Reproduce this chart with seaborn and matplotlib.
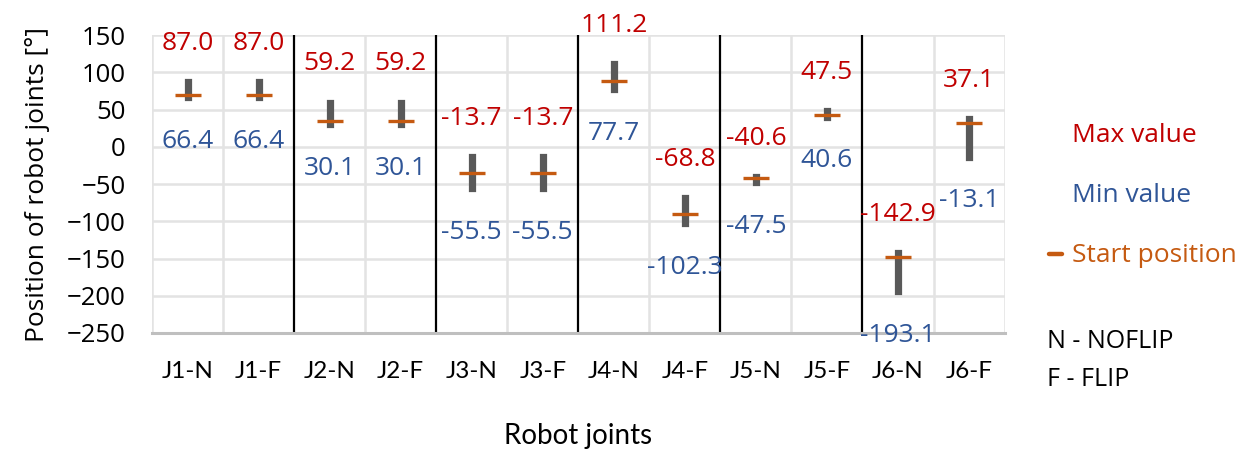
import matplotlib
matplotlib.use("Agg")
import matplotlib.pyplot as plt
from matplotlib.lines import Line2D
import pandas as pd
import seaborn as sns

# === DATA ===
joints = ["J1-N", "J1-F", "J2-N", "J2-F", "J3-N", "J3-F",
          "J4-N", "J4-F", "J5-N", "J5-F", "J6-N", "J6-F"]
max_vals = [87.0, 87.0, 59.2, 59.2, -13.7, -13.7, 111.2, -68.8, -40.6, 47.5, -142.9, 37.1]
min_vals = [66.4, 66.4, 30.1, 30.1, -55.5, -55.5, 77.7, -102.3, -47.5, 40.6, -193.1, -13.1]
start_pos = [69, 69, 35, 35, -35, -35, 88, -90, -42, 42, -148, 32]

# === STYLE ===
RED = "#C00000"
BLUE = "#2F5597"
ORANGE = "#C55A11"
BAR = "#595959"
GRID = "#E3E3E3"

sns.set_theme(style="white")
plt.rcParams["font.family"] = ["Open Sans", "DejaVu Sans"]
plt.rcParams["text.color"] = "black"
plt.rcParams["axes.labelcolor"] = "black"
plt.rcParams["xtick.color"] = "black"
plt.rcParams["ytick.color"] = "black"

df = pd.DataFrame({"joint": joints, "max": max_vals, "min": min_vals, "start": start_pos})

fig = plt.figure(figsize=(12.51, 4.70), dpi=100)
ax = fig.add_axes([0.1215, 0.2915, 0.6815, 0.634])

# high-low bars
ax.vlines(df["joint"], df["min"], df["max"], color=BAR, linewidth=5.2, zorder=3)
for ln in ax.collections:
    ln.set_capstyle("projecting")

# start position markers
sns.scatterplot(data=df, x="joint", y="start", marker="_", s=19**2, linewidth=2.4,
                color=ORANGE, ax=ax, zorder=4, legend=False)

# data labels
for i, row in df.iterrows():
    ax.annotate(f"{row['max']:.1f}", (i, row["max"]), xytext=(0, 28), textcoords="offset points",
                ha="center", va="center", color=RED, fontsize=19, annotation_clip=False)
    ax.annotate(f"{row['min']:.1f}", (i, row["min"]), xytext=(0, -32), textcoords="offset points",
                ha="center", va="center", color=BLUE, fontsize=19, annotation_clip=False)

# grid and separators
ax.set_ylim(-250, 150)
ax.set_xlim(-0.5, len(joints) - 0.5)
ax.set_yticks(range(-250, 151, 50))
for y in range(-200, 151, 50):
    ax.axhline(y, color=GRID, linewidth=1.8, zorder=0)
for k in range(len(joints)):
    x = k - 0.5
    if k % 2 == 0 and k > 0:
        ax.axvline(x, color="black", linewidth=1.6, zorder=1)
    else:
        ax.axvline(x, color=GRID, linewidth=1.8, zorder=0)
ax.axvline(len(joints) - 0.5, color=GRID, linewidth=1.8, zorder=0)

for s in ["top", "right", "left"]:
    ax.spines[s].set_visible(False)
ax.spines["bottom"].set_color("#BFBFBF")
ax.spines["bottom"].set_linewidth(2.2)

ax.tick_params(axis="y", length=0, pad=19, labelsize=18.5, labelcolor="black")
ax.tick_params(axis="x", length=0, pad=20, labelsize=17.5, labelcolor="black")
for t in ax.get_xticklabels():
    t.set_family(["Lato", "DejaVu Sans"])

ax.set_xlabel("Robot joints", fontsize=20, family=["Lato", "DejaVu Sans"], labelpad=30, color="black")
ax.set_ylabel("Position of robot joints [°]", fontsize=19, labelpad=12, color="black")

# legend-like annotations
fig.text(1072 / 1251, 1 - 135 / 470, "Max value", color=RED, fontsize=19, va="center")
fig.text(1072 / 1251, 1 - 196 / 470, "Min value", color=BLUE, fontsize=19, va="center")
fig.text(1072 / 1251, 1 - 255 / 470, "Start position", color=ORANGE, fontsize=19, va="center")
fig.add_artist(Line2D([1049 / 1251, 1062 / 1251], [1 - 254 / 470, 1 - 254 / 470],
                      color=ORANGE, linewidth=3.2, transform=fig.transFigure))
fig.text(1047 / 1251, 1 - 342 / 470, "N - NOFLIP", color="black", fontsize=18, va="center")
fig.text(1047 / 1251, 1 - 379 / 470, "F - FLIP", color="black", fontsize=18, va="center")

fig.savefig("out.png", dpi=100)
plt.close(fig)
